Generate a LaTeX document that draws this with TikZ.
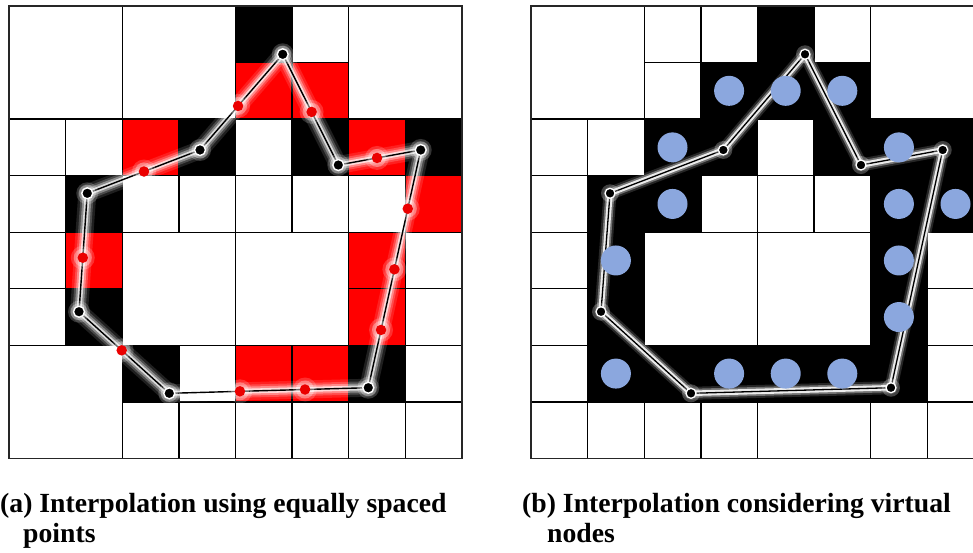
\documentclass[tikz,border=0pt]{standalone}
\usepackage{fontspec}
\setmainfont{Liberation Serif}
\usetikzlibrary{calc}
\definecolor{bluedot}{RGB}{139,167,222}
\definecolor{redcell}{RGB}{255,0,0}
\definecolor{reddot}{RGB}{235,0,0}
\tikzset{
  cellbox/.style={draw=black,line width=1.4pt},
  vtxA/.style={circle,fill=black,draw=white,line width=1.4pt,inner sep=0pt,minimum size=11pt},
  vtxB/.style={circle,fill=black,draw=white,line width=1.3pt,inner sep=0pt,minimum size=10pt},
  rdot/.style={circle,fill=reddot,inner sep=0pt,minimum size=10.5pt},
  bdot/.style={circle,fill=bluedot,inner sep=0pt,minimum size=30pt},
  captext/.style={anchor=base west,inner sep=0pt,font=\fontsize{27.7}{30}\selectfont\bfseries},
}
\newcommand\mycells[1]{\foreach \cx/\cy/\cw/\ch/\cc in {#1}{\filldraw[cellbox,fill=\cc] (\cx,\cy) rectangle ++(\cw,\ch);}}
\begin{document}
\begin{tikzpicture}[x=1pt,y=-1pt]
\useasboundingbox[fill=white] (0,0) rectangle (973,552);

% ---------------- panel (a) ----------------
\begin{scope}[shift={(9,6)},x=56.6pt,y=-56.55pt]
\mycells{0/0/2/2/white,2/0/2/2/white,4/0/1/1/black,4/1/1/1/redcell,5/0/1/1/white,5/1/1/1/redcell,6/0/2/2/white,
 0/2/1/1/white,1/2/1/1/white,2/2/1/1/redcell,3/2/1/1/black,4/2/1/1/white,5/2/1/1/black,6/2/1/1/redcell,7/2/1/1/black,
 0/3/1/1/white,1/3/1/1/black,2/3/1/1/white,3/3/1/1/white,4/3/1/1/white,5/3/1/1/white,6/3/1/1/white,7/3/1/1/redcell,
 0/4/1/1/white,1/4/1/1/redcell,2/4/2/2/white,4/4/2/2/white,6/4/1/1/redcell,7/4/1/1/white,
 0/5/1/1/white,1/5/1/1/black,6/5/1/1/redcell,7/5/1/1/white,
 0/6/2/2/white,2/6/1/1/black,3/6/1/1/white,4/6/1/1/redcell,5/6/1/1/redcell,6/6/1/1/black,7/6/1/1/white,
 2/7/1/1/white,3/7/1/1/white,4/7/1/1/white,5/7/1/1/white,6/7/1/1/white,7/7/1/1/white}
\draw[black!85,line width=1.8pt] (0,0) rectangle (8,8);
\coordinate (a1) at (4.836,0.854);
\coordinate (a2) at (5.818,2.812);
\coordinate (a3) at (7.274,2.546);
\coordinate (a4) at (6.348,6.750);
\coordinate (a5) at (2.832,6.849);
\coordinate (a6) at (1.237,5.406);
\coordinate (a7) at (1.383,3.312);
\coordinate (a8) at (3.375,2.546);
\foreach \wd/\op in {18/0.12,13/0.2,9/0.35,5/0.7}{
  \draw[white,line width=\wd pt,opacity=\op,line join=round] (a1)--(a2)--(a3)--(a4)--(a5)--(a6)--(a7)--(a8)--cycle;}
\draw[black,line width=1.4pt,line join=round] (a1)--(a2)--(a3)--(a4)--(a5)--(a6)--(a7)--(a8)--cycle;
\foreach \p/\t/\q/\n in {a8/0.46/a1/r1,a1/0.52/a2/r2,a2/0.47/a3/r3,a3/0.247/a4/r4,a3/0.502/a4/r5,a3/0.757/a4/r6,
  a4/0.318/a5/r7,a4/0.645/a5/r8,a5/0.527/a6/r9,a6/0.456/a7/r10,a7/0.503/a8/r11}{
  \coordinate (\n) at ($(\p)!\t!(\q)$);
  \fill[white,opacity=0.18] (\n) circle (12pt);
  \fill[white,opacity=0.3] (\n) circle (9pt);
  \node[rdot] at (\n) {};}
\foreach \v in {a1,a2,a3,a4,a5,a6,a7,a8}{
  \fill[white,opacity=0.2] (\v) circle (11pt);
  \fill[white,opacity=0.35] (\v) circle (8.5pt);
  \node[vtxA] at (\v) {};}
\end{scope}

% ---------------- panel (b) ----------------
\begin{scope}
\clip (500,0) rectangle (973,470);
\begin{scope}[shift={(531,6)},x=56.6pt,y=-56.55pt]
\mycells{0/0/2/2/white,2/0/1/1/white,3/0/1/1/white,4/0/1/1/black,5/0/1/1/white,6/0/2/2/white,
 2/1/1/1/white,3/1/1/1/black,4/1/1/1/black,5/1/1/1/black,
 0/2/1/1/white,1/2/1/1/white,2/2/1/1/black,3/2/1/1/black,4/2/1/1/white,5/2/1/1/black,6/2/1/1/black,7/2/1/1/black,
 0/3/1/1/white,1/3/1/1/black,2/3/1/1/black,3/3/1/1/white,4/3/1/1/white,5/3/1/1/white,6/3/1/1/black,7/3/1/1/black,
 0/4/1/1/white,1/4/1/1/black,2/4/2/2/white,4/4/2/2/white,6/4/1/1/black,7/4/1/1/white,
 0/5/1/1/white,1/5/1/1/black,6/5/1/1/black,7/5/1/1/white,
 0/6/1/1/white,1/6/1/1/black,2/6/1/1/black,3/6/1/1/black,4/6/1/1/black,5/6/1/1/black,6/6/1/1/black,7/6/1/1/white,
 0/7/1/1/white,1/7/1/1/white,2/7/1/1/white,3/7/1/1/white,4/7/2/1/white,6/7/1/1/white,7/7/1/1/white}
\draw[black!85,line width=1.8pt] (0,0) rectangle (8,8);
\coordinate (b1) at (4.841,0.854);
\coordinate (b2) at (5.830,2.812);
\coordinate (b3) at (7.274,2.546);
\coordinate (b4) at (6.360,6.750);
\coordinate (b5) at (2.827,6.849);
\coordinate (b6) at (1.237,5.406);
\coordinate (b7) at (1.396,3.312);
\coordinate (b8) at (3.398,2.546);
\foreach \wd/\op in {13/0.15,9/0.35}{
  \draw[white,line width=\wd pt,opacity=\op,line join=round] (b1)--(b2)--(b3)--(b4)--(b5)--(b6)--(b7)--(b8)--cycle;}
\draw[white!92!black,line width=5.5pt,line join=round] (b1)--(b2)--(b3)--(b4)--(b5)--(b6)--(b7)--(b8)--cycle;
\draw[black,line width=1.3pt,line join=round] (b1)--(b2)--(b3)--(b4)--(b5)--(b6)--(b7)--(b8)--cycle;
\foreach \v in {b1,b2,b3,b4,b5,b6,b7,b8}{
  \fill[white,opacity=0.25] (\v) circle (9pt);
  \node[vtxB] at (\v) {};}
\foreach \cx/\cy [count=\k] in {3/1,4/1,5/1,2/2,6/2,2/3,6/3,7/3,1/4,6/4,6/5,1/6,3/6,4/6,5/6}{
  \node[bdot] (v\k) at (\cx+0.5,\cy+0.5) {};}
\end{scope}
\end{scope}

% ---------------- captions ----------------
\node[captext] (capa1) at (0,512.5) {(a) Interpolation using equally spaced};
\node[captext] (capa2) at (23,542.5) {points};
\node[captext] (capb1) at (522,512.5) {(b) Interpolation considering virtual};
\node[captext] (capb2) at (547,542.5) {nodes};
\end{tikzpicture}
\end{document}
